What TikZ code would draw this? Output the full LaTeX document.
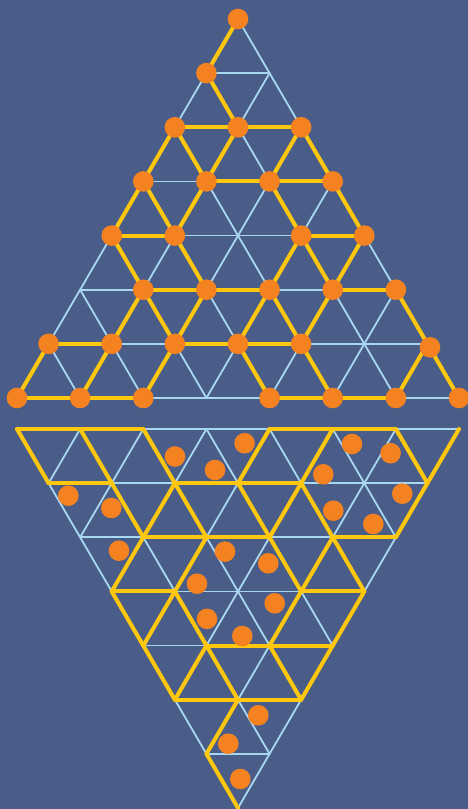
\documentclass[tikz,border=0pt]{standalone}
\definecolor{bg}{HTML}{4A5D88}
\definecolor{gold}{HTML}{FFC70D}
\definecolor{dotorange}{HTML}{F58220}
\definecolor{gridblue}{HTML}{A8D8F0}
\begin{document}
\begin{tikzpicture}[x=1pt,y=-1pt,
  gridline/.style={draw=gridblue,line width=1.8pt,line cap=round},
  goldline/.style={draw=gold,line width=4pt,line cap=round,line join=round},
  spot/.style={circle,fill=dotorange,minimum size=20.6pt,inner sep=0pt}]
\fill[bg] (0,0) rectangle (468,809);
\useasboundingbox (0,0) rectangle (468,809);
% lattice coordinates
\foreach \r in {0,...,7}{
  \foreach \k in {0,...,\r}{
    \coordinate (T\r\k) at ({238+(\k-\r/2)*63.143},{19+\r*54.143});
  }
}
\foreach \r in {0,...,7}{
  \pgfmathtruncatemacro\n{7-\r}
  \foreach \k in {0,...,\n}{
    \coordinate (B\r\k) at ({238+(\k-(7-\r)/2)*63.143},{429+\r*54.143});
  }
}
% top grid
\foreach \r in {0,...,6}{
  \pgfmathtruncatemacro\s{\r+1}
  \foreach \k in {0,...,\r}{
    \pgfmathtruncatemacro\kk{\k+1}
    \draw[gridline] (T\r\k) -- (T\s\k);
    \draw[gridline] (T\r\k) -- (T\s\kk);
    \draw[gridline] (T\s\k) -- (T\s\kk);
  }
}
% bottom grid
\foreach \r in {0,...,6}{
  \pgfmathtruncatemacro\s{\r+1}
  \pgfmathtruncatemacro\n{6-\r}
  \foreach \j in {0,...,\n}{
    \pgfmathtruncatemacro\jj{\j+1}
    \draw[gridline] (B\s\j) -- (B\r\j);
    \draw[gridline] (B\s\j) -- (B\r\jj);
    \draw[gridline] (B\r\j) -- (B\r\jj);
  }
}
% top gold edges
\foreach \a/\b in {00/10,10/21,20/21,21/22,20/30,20/31,21/31,22/32,22/33,31/32,32/33,
  30/40,30/41,31/41,32/43,33/44,40/41,43/44,40/51,41/52,43/53,43/54,44/54,
  51/52,52/53,54/55,51/61,51/62,52/62,53/63,53/64,54/64,55/66,60/61,62/63,63/64,
  60/70,61/71,62/72,63/74,64/75,66/76,66/77,70/71,71/72,74/75,75/76}{
  \draw[goldline] (T\a) -- (T\b);
}
% bottom gold edges
\foreach \a/\b in {00/01,01/02,04/05,05/06,00/10,01/11,02/12,04/13,05/14,06/16,07/16,
  10/11,12/13,13/14,11/21,12/21,12/22,13/23,14/23,14/24,16/25,21/22,22/23,24/25,
  21/30,22/31,23/33,24/33,24/34,30/31,33/34,30/40,31/40,31/41,33/42,34/43,
  41/42,42/43,40/50,41/50,41/51,42/52,43/52,50/51,51/52,51/60,60/70}{
  \draw[goldline] (B\a) -- (B\b);
}
% top dots
\foreach \p in {00,10,20,21,22,30,31,32,33,40,41,43,44,51,52,53,54,55,
  60,61,62,63,64,70,71,72,74,75,76,77}{
  \node[spot] (dT\p) at (T\p) {};
}
\node[spot] (dT66) at (430,347.3) {};
% bottom dots
\foreach \x/\y [count=\i] in {175/456.5,215/470,244.6/443.2,352/444,390.6/453.2,
  323.3/474.3,68.3/495.7,111.3/508,402.3/493.7,333.3/510.7,373.3/524,
  119/550.7,225/551.6,268.3/563.3,197/583.7,274.7/603.3,207/618.8,242.3/636,
  258.3/715.3,228.3/743.7,240.3/779}{
  \node[spot] (dB\i) at (\x,\y) {};
}
\end{tikzpicture}
\end{document}
